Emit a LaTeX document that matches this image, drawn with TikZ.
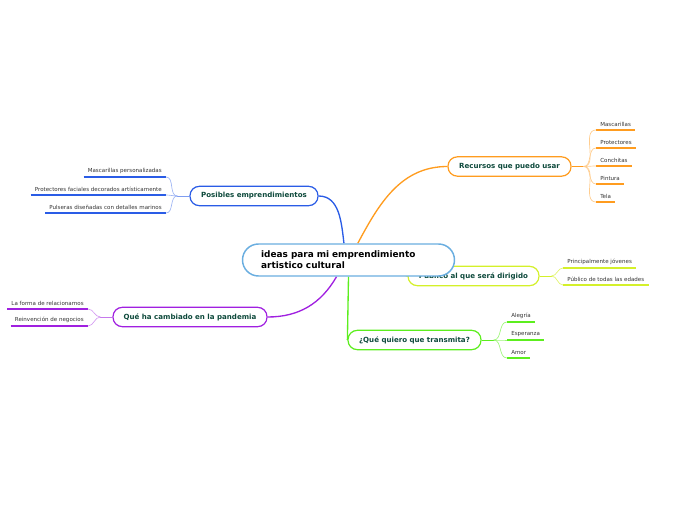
\documentclass[tikz,border=0pt]{standalone}
\usepackage{fontspec}
\setmainfont{DejaVu Sans}
\usepackage{xcolor}
\usetikzlibrary{positioning,backgrounds}

\definecolor{cblue}{HTML}{2A5CE6}
\definecolor{corange}{HTML}{FF9C1F}
\definecolor{clime}{HTML}{D4F02A}
\definecolor{cgreen}{HTML}{5CEE1E}
\definecolor{cpurple}{HTML}{A020E0}
\definecolor{ccentral}{HTML}{6AAEE0}
\definecolor{ctext}{HTML}{0E4A3C}

\tikzset{
    central/.style={draw=ccentral, line width=1.1pt, fill=white, rounded corners=12pt,
        minimum height=24pt, text width=131pt, inner xsep=14pt, align=left,
        font=\fontsize{6.7}{8}\selectfont\bfseries},
    branch/.style={draw=#1, line width=0.9pt, fill=white, rounded corners=7pt,
        minimum height=14.5pt, font=\fontsize{5.3}{6}\selectfont\bfseries, text=ctext},
    leaf/.style={inner xsep=3pt, inner ysep=2.2pt, font=\fontsize{4.15}{4.7}\selectfont, text=black!80},
    uline/.style={draw=#1, line width=1.4pt},
    link/.style={draw=#1, line width=1pt},
    twig/.style={draw=#1, line width=0.5pt}
}

\begin{document}
\begin{tikzpicture}[x=0.75pt, y=-0.75pt]
    \useasboundingbox (0,0) rectangle (697,520);

    % centre
    \node[central] (idea) at (348.5,260) {ideas para mi emprendimiento\\artistico cultural};

    % branches
    \node[branch=cblue, minimum width=96pt] (posibles) at (254,196) {Posibles emprendimientos};
    \node[branch=corange, minimum width=92.25pt] (recursos) at (509.5,166.5) {Recursos que puedo usar};
    \node[branch=cgreen, minimum width=99.75pt] (transmita) at (414.5,340) {¿Qué quiero que transmita?};
    \node[branch=cpurple, minimum width=115.5pt] (pandemia) at (190,317) {Qué ha cambiado en la pandemia};

    \begin{scope}[on background layer]
        \node[branch=clime, minimum width=98.25pt] (publico) at (473.5,276) {Público al que será dirigido};
        \draw[link=clime] (idea.center) -- (publico.west);
        \draw[link=cblue] ([xshift=-3.4pt]idea.north) to[out=97, in=0] (posibles.east);
        \draw[link=corange] ([xshift=7pt]idea.north) to[out=62, in=180] (recursos.west);
        \draw[link=cpurple] ([xshift=-9pt]idea.south) to[out=240, in=0] (pandemia.east);
        \draw[link=cgreen] (idea.south) -- (transmita.west);
    \end{scope}

    % fan points
    \coordinate (posfan) at ([xshift=-9pt]posibles.west);
    \coordinate (recfan) at ([xshift=9pt]recursos.east);
    \coordinate (pubfan) at ([xshift=9pt]publico.east);
    \coordinate (trafan) at ([xshift=9pt]transmita.east);
    \coordinate (panfan) at ([xshift=-9pt]pandemia.west);

    \draw[twig=cblue!60] (posibles.west) -- (posfan);
    \draw[twig=corange] (recursos.east) -- (recfan);
    \draw[twig=clime] (publico.east) -- (pubfan);
    \draw[twig=cgreen] (transmita.east) -- (trafan);
    \draw[twig=cpurple!60] (pandemia.west) -- (panfan);

    % leaves, left side
    \foreach \y/\t [count=\i] in {177/Mascarillas personalizadas,
            195/Protectores faciales decorados artísticamente,
            213/Pulseras diseñadas con detalles marinos} {
        \node[leaf, anchor=south east] (pos\i) at (166,\y) {\t};
        \draw[uline=cblue] (pos\i.south west) -- (pos\i.south east);
        \draw[twig=cblue!45] (posfan) to[out=180, in=0] (pos\i.south east);
    }
    \foreach \y/\t [count=\i] in {309/La forma de relacionarnos, 326/Reinvención de negocios} {
        \node[leaf, anchor=south east] (pan\i) at (88,\y) {\t};
        \draw[uline=cpurple] (pan\i.south west) -- (pan\i.south east);
        \draw[twig=cpurple!45] (panfan) to[out=180, in=0] (pan\i.south east);
    }

    % leaves, right side
    \foreach \y/\t [count=\i] in {130/Mascarillas, 148/Protectores, 166/Conchitas, 184/Pintura, 202/Tela} {
        \node[leaf, anchor=south west] (rec\i) at (596,\y) {\t};
        \draw[uline=corange] (rec\i.south west) -- (rec\i.south east);
        \draw[twig=corange!50] (recfan) to[out=0, in=180] (rec\i.south west);
    }
    \foreach \y/\t [count=\i] in {268/Principalmente jóvenes, 285/Público de todas las edades} {
        \node[leaf, anchor=south west] (pub\i) at (563,\y) {\t};
        \draw[uline=clime] (pub\i.south west) -- (pub\i.south east);
        \draw[twig=clime!70] (pubfan) to[out=0, in=180] (pub\i.south west);
    }
    \foreach \y/\t [count=\i] in {322/Alegría, 340/Esperanza, 358/Amor} {
        \node[leaf, anchor=south west] (tra\i) at (507,\y) {\t};
        \draw[uline=cgreen] (tra\i.south west) -- (tra\i.south east);
        \draw[twig=cgreen!60] (trafan) to[out=0, in=180] (tra\i.south west);
    }
\end{tikzpicture}
\end{document}
